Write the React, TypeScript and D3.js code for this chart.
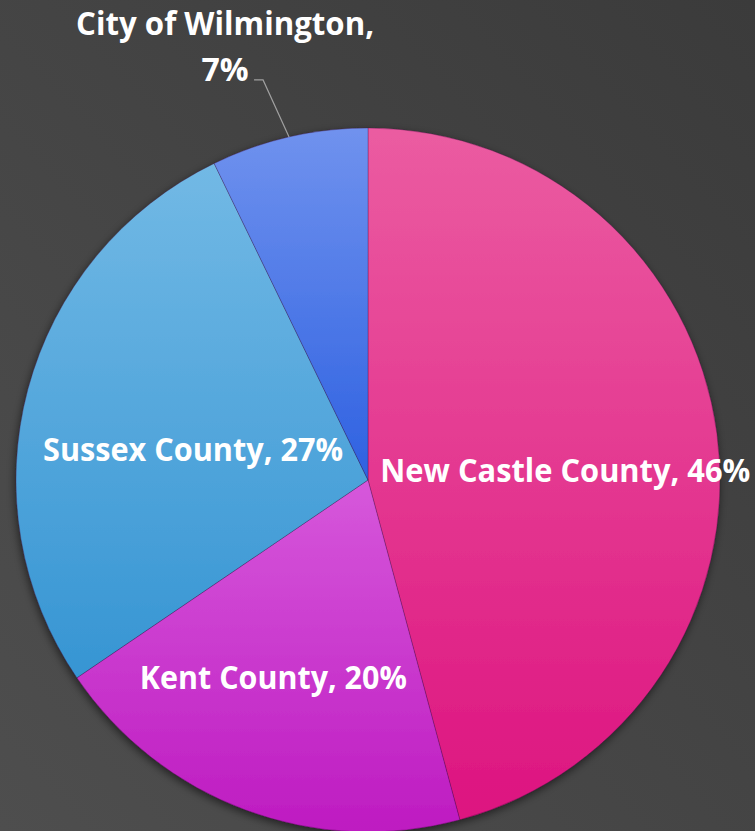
import React from "react";
import * as d3 from "d3";

const categories = ["New Castle County", "Kent County", "Sussex County", "City of Wilmington"];
const values = [45.8, 19.7, 27.3, 7.2];
const percentLabels = ["46%", "20%", "27%", "7%"];
const colorsTop = ["#EB5CA1", "#D658DB", "#72B9E5", "#7092EE"];
const colorsBottom = ["#DD1480", "#BE1BC1", "#3695D3", "#2E61E1"];

const W = 755;
const H = 831;
const CX = 368;
const CY = 480;
const R = 352;

export default function App() {
  const data = categories.map((c, i) => ({ name: c, value: values[i], pct: percentLabels[i], i }));
  const pie = d3
    .pie<any>()
    .sort(null)
    .value((d) => d.value)
    .startAngle(0)
    .endAngle(2 * Math.PI);
  const arcs = pie(data);
  const arc = d3.arc<any>().innerRadius(0).outerRadius(R);

  const polar = (a: number, r: number) => [Math.sin(a) * r, -Math.cos(a) * r];

  // inside label placement: radius along mid angle plus nudges (text baseline)
  const labelRadius = [197, 212, 178, 0];
  const labelNudge = [
    [2, 28],
    [-21, 10],
    [-3, 27],
    [0, 0],
  ];
  const labelWidths = [370, 267, 300, 298];

  return (
    <svg
      width={W}
      height={H}
      style={{ position: "fixed", left: 0, top: 0, display: "block" }}
      fontFamily="'Open Sans', sans-serif"
    >
      <defs>
        <linearGradient id="bg" x1="1" y1="0" x2="0" y2="1">
          <stop offset="0" stopColor="#3b3b3b" />
          <stop offset="1" stopColor="#4e4e4e" />
        </linearGradient>
        {arcs.map((a, i) => (
          <linearGradient key={i} id={`g${i}`} x1="0" y1="0" x2="0" y2="1">
            <stop offset="0" stopColor={colorsTop[i]} />
            <stop offset="1" stopColor={colorsBottom[i]} />
          </linearGradient>
        ))}
        <filter id="shadow" x="-10%" y="-10%" width="120%" height="120%">
          <feDropShadow dx="-1" dy="3" stdDeviation="4" floodColor="#000" floodOpacity="0.55" />
        </filter>
      </defs>
      <rect x={0} y={0} width={W} height={H} fill="url(#bg)" />
      <g transform={`translate(${CX},${CY})`}>
        <g filter="url(#shadow)">
          {arcs.map((a, i) => (
            <path
              key={i}
              d={arc(a) as string}
              fill={`url(#g${i})`}
              stroke="rgba(60,0,60,0.35)"
              strokeWidth={0.8}
            />
          ))}
        </g>
        {arcs.map((a, i) => {
          if (i === 3) return null;
          const mid = (a.startAngle + a.endAngle) / 2;
          const [x, y] = polar(mid, labelRadius[i]);
          return (
            <text
              key={i}
              x={x + labelNudge[i][0]}
              y={y + labelNudge[i][1]}
              textAnchor="middle"
              fill="#fff"
              fontWeight="bold"
              fontSize={32}
              textLength={labelWidths[i]}
              lengthAdjust="spacingAndGlyphs"
            >
              {`${a.data.name}, ${a.data.pct}`}
            </text>
          );
        })}
        {(() => {
          const a = arcs[3];
          const mid = (a.startAngle + a.endAngle) / 2;
          const [ex, ey] = polar(mid, R);
          const kx = ex - 26;
          const ky = ey - 57;
          const lx = kx - 9;
          const tx = lx - 29;
          return (
            <g>
              <polyline
                points={`${ex},${ey} ${kx},${ky} ${lx},${ky}`}
                fill="none"
                stroke="#a0a0a0"
                strokeWidth={1.2}
              />
              <text
                x={tx}
                y={ky - 45}
                textAnchor="middle"
                fill="#fff"
                fontWeight="bold"
                fontSize={32}
                textLength={labelWidths[3]}
                lengthAdjust="spacingAndGlyphs"
              >
                {`${a.data.name},`}
              </text>
              <text x={tx} y={ky + 1} textAnchor="middle" fill="#fff" fontWeight="bold" fontSize={32}>
                {a.data.pct}
              </text>
            </g>
          );
        })()}
      </g>
    </svg>
  );
}
